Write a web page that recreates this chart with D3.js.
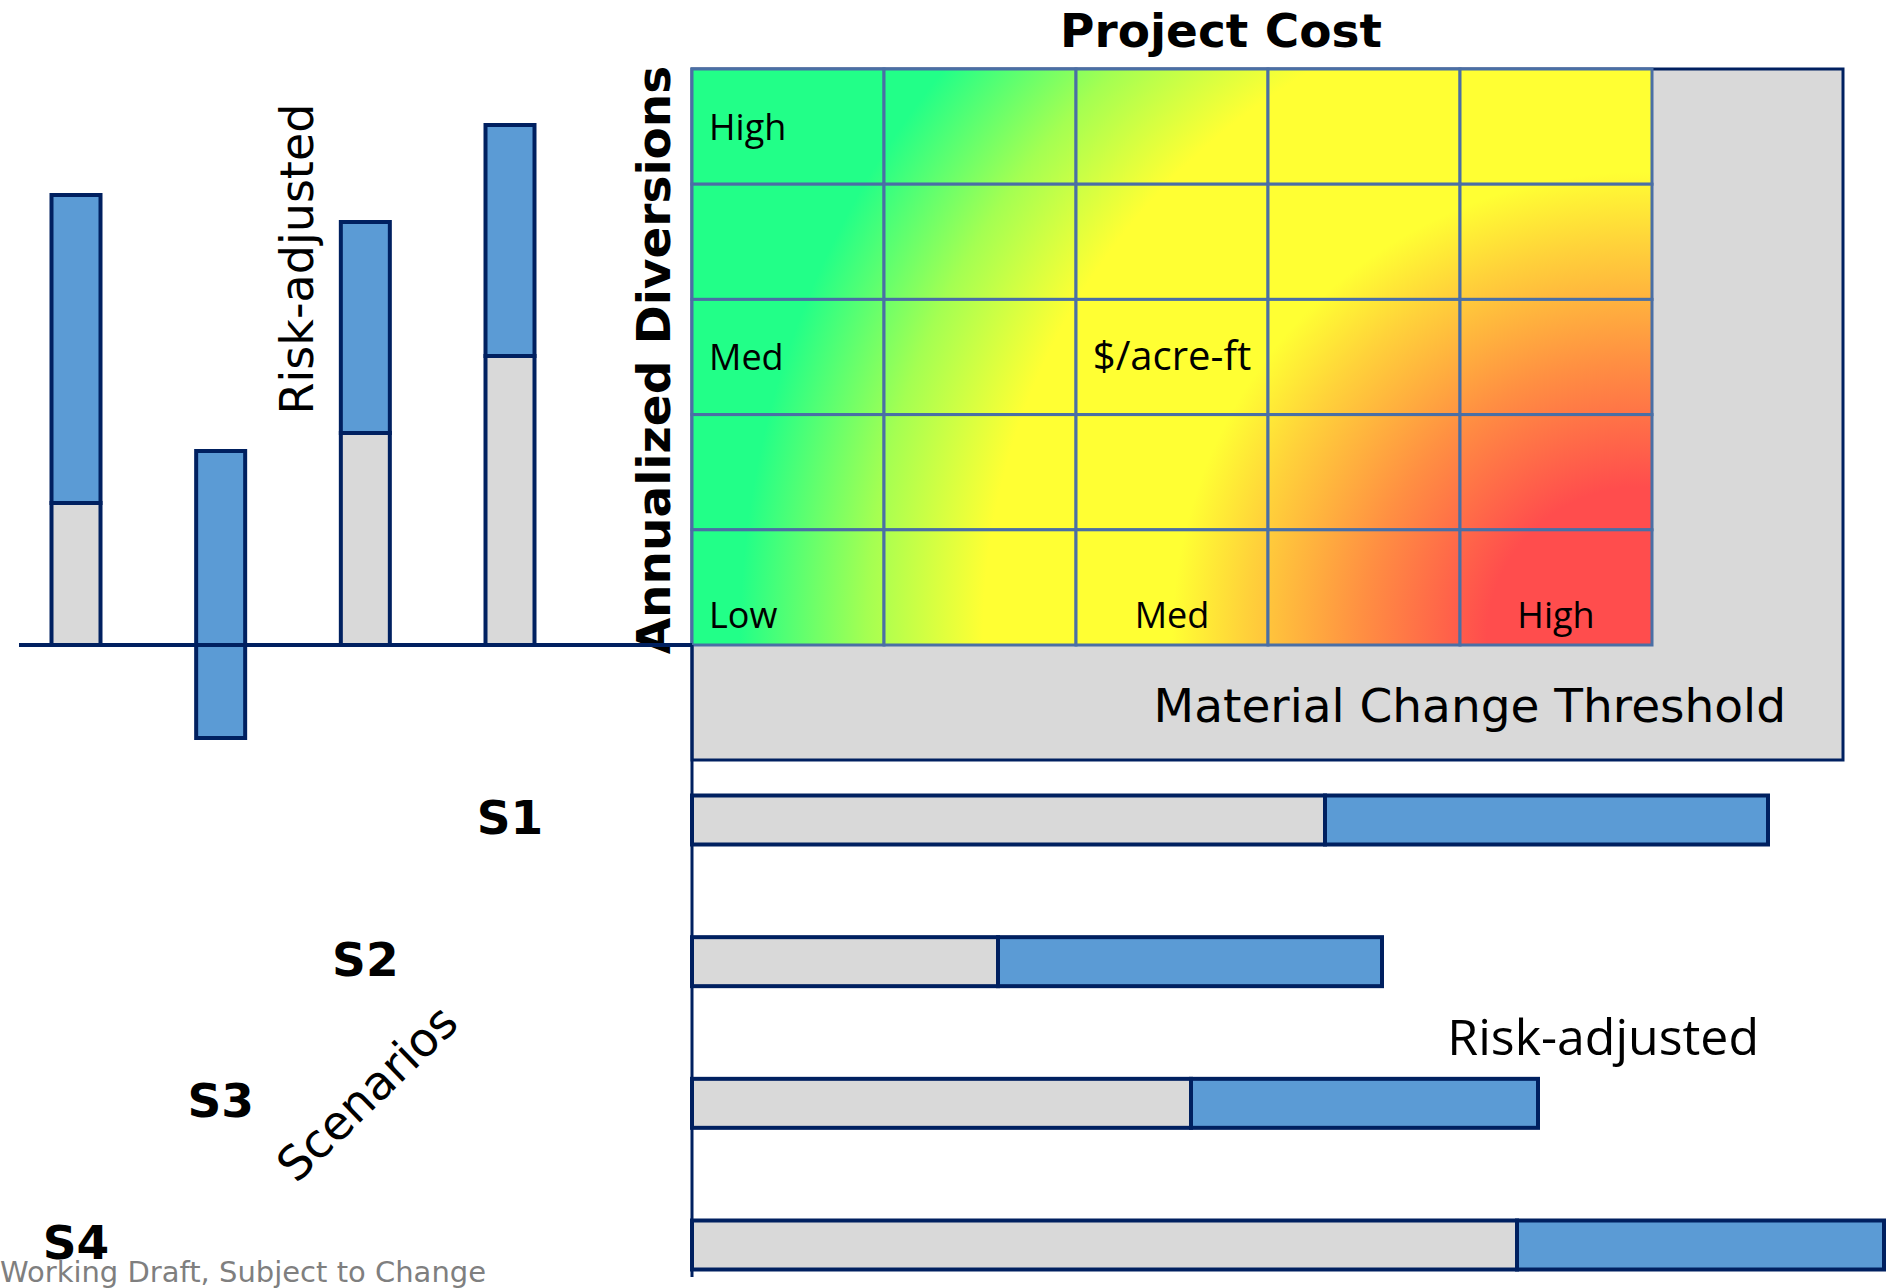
<!DOCTYPE html>
<html>
<head>
<meta charset="utf-8">
<script src="https://cdn.jsdelivr.net/npm/d3@7"></script>
<style>
  html, body { margin: 0; padding: 0; background: #fff; }
  svg { display: block; }
</style>
</head>
<body>
<div id="chart"></div>
<script>
// scenarios, top to bottom on the cost chart (left to right reversed on the diversions chart)
const scenarios = ['S1', 'S2', 'S3', 'S4'];

// annualized diversions (arbitrary units): base and risk-adjusted range
const divBase = [2.89, 2.12, 0, 1.42];
const divRiskLow = [2.89, 2.12, -0.93, 1.42];
const divRiskHigh = [5.20, 4.23, 1.94, 4.50];

// project cost (arbitrary units): base and risk-adjusted end
const costBase = [6.33, 3.06, 4.99, 8.25];
const costRiskHigh = [10.76, 6.90, 8.46, 11.92];

// material change threshold box and $/acre-ft matrix extent
const thresholdCost = 11.51;
const thresholdDiv = -1.15;
const matrixCostMax = 9.6;
const matrixDivMax = 5.76;

// matrix labels
const costLevels = ['Low', '', 'Med', '', 'High'];
const divLevels = ['High', '', 'Med', '', 'Low'];

const W = 1892, H = 1288;
const navy = '#002060', blue = '#5B9BD5', grey = '#D9D9D9';

const svg = d3.select('#chart').append('svg')
  .attr('width', W).attr('height', H);

const originX = 692, originY = 645;

const xCost = d3.scaleLinear().domain([0, 12]).range([originX, originX + 1200]);
const yDiv = d3.scaleLinear().domain([0, 5]).range([originY, originY - 500]);

const xScen = d3.scalePoint().domain(['S4', 'S3', 'S2', 'S1']).range([76, 510]);
const yScen = d3.scalePoint().domain(scenarios).range([820, 1245]);
const barW = 49;

// gradient for the matrix
const defs = svg.append('defs');
const grad = defs.append('radialGradient')
  .attr('id', 'heat')
  .attr('gradientUnits', 'userSpaceOnUse')
  .attr('cx', 1640).attr('cy', 640).attr('r', 900);
[[0, '#FF4D4D'], [0.17, '#FF4D4D'], [0.31, '#FF8F42'], [0.44, '#FFD23A'],
 [0.52, '#FFFF33'], [0.73, '#FFFF33'], [0.86, '#A4FF52'], [1, '#22FF88']]
  .forEach(s => grad.append('stop').attr('offset', s[0]).attr('stop-color', s[1]));

// threshold box
svg.append('rect')
  .attr('x', xCost(0)).attr('y', yDiv(matrixDivMax))
  .attr('width', xCost(thresholdCost) - xCost(0))
  .attr('height', yDiv(thresholdDiv) - yDiv(matrixDivMax))
  .attr('fill', grey).attr('stroke', navy).attr('stroke-width', 3);

svg.append('text')
  .attr('x', 1786).attr('y', 722)
  .attr('text-anchor', 'end')
  .style('font-family', 'DejaVu Sans')
  .style('font-size', '47px')
  .text('Material Change Threshold');

// matrix
const col = d3.scaleBand().domain(d3.range(5)).range([xCost(0), xCost(matrixCostMax)]);
const row = d3.scaleBand().domain(d3.range(5)).range([yDiv(matrixDivMax), yDiv(0)]);
const cells = [];
for (let r = 0; r < 5; r++) for (let c = 0; c < 5; c++) cells.push({ r, c });

svg.append('g').selectAll('rect').data(cells).enter().append('rect')
  .attr('x', d => col(d.c)).attr('y', d => row(d.r))
  .attr('width', col.bandwidth()).attr('height', row.bandwidth())
  .attr('fill', 'url(#heat)')
  .attr('stroke', '#4A6FA5').attr('stroke-width', 3);

const lab = svg.append('g')
  .style('font-family', "'Open Sans', 'Noto Sans', sans-serif")
  .style('font-size', '36px');

divLevels.forEach((t, i) => {
  if (!t || i === 4) return;
  lab.append('text')
    .attr('x', col(0) + 17)
    .attr('y', row(i) + row.bandwidth() / 2 + 13)
    .text(t);
});
costLevels.forEach((t, i) => {
  if (!t) return;
  lab.append('text')
    .attr('x', i === 0 ? col(0) + 17 : col(i) + col.bandwidth() / 2)
    .attr('y', row(4) + row.bandwidth() - 17)
    .attr('text-anchor', i === 0 ? 'start' : 'middle')
    .text(t);
});
lab.append('text')
  .attr('x', col(2) + col.bandwidth() / 2)
  .attr('y', row(2) + row.bandwidth() / 2 + 13)
  .attr('text-anchor', 'middle')
  .style('font-size', '40px')
  .text('$/acre-ft');

svg.append('text')
  .attr('x', 1221).attr('y', 47)
  .attr('text-anchor', 'middle')
  .style('font-family', 'DejaVu Sans')
  .style('font-weight', 'bold')
  .style('font-size', '47px')
  .text('Project Cost');

svg.append('text')
  .attr('transform', 'translate(670,360) rotate(-90)')
  .attr('text-anchor', 'middle')
  .style('font-family', 'DejaVu Sans')
  .style('font-weight', 'bold')
  .style('font-size', '47px')
  .text('Annualized Diversions');

// diversions chart (vertical bars)
const vBars = svg.append('g');
scenarios.forEach((s, i) => {
  if (divBase[i] > 0) {
    vBars.append('rect')
      .attr('x', xScen(s) - barW / 2).attr('width', barW)
      .attr('y', yDiv(divBase[i])).attr('height', yDiv(0) - yDiv(divBase[i]))
      .attr('fill', grey).attr('stroke', navy).attr('stroke-width', 4);
  }
  vBars.append('rect')
    .attr('x', xScen(s) - barW / 2).attr('width', barW)
    .attr('y', yDiv(divRiskHigh[i])).attr('height', yDiv(divRiskLow[i]) - yDiv(divRiskHigh[i]))
    .attr('fill', blue).attr('stroke', navy).attr('stroke-width', 4);
});

svg.append('line')
  .attr('x1', 19).attr('x2', originX).attr('y1', originY).attr('y2', originY)
  .attr('stroke', navy).attr('stroke-width', 4);

svg.append('text')
  .attr('transform', 'translate(313,259) rotate(-90)')
  .attr('text-anchor', 'middle')
  .style('font-family', 'DejaVu Sans')
  .style('font-size', '46px')
  .text('Risk-adjusted');

// cost chart (horizontal bars)
svg.append('line')
  .attr('x1', originX).attr('x2', originX).attr('y1', originY).attr('y2', 1277)
  .attr('stroke', navy).attr('stroke-width', 3);

const hBars = svg.append('g');
scenarios.forEach((s, i) => {
  hBars.append('rect')
    .attr('x', xCost(0)).attr('width', xCost(costBase[i]) - xCost(0))
    .attr('y', yScen(s) - barW / 2).attr('height', barW)
    .attr('fill', grey).attr('stroke', navy).attr('stroke-width', 4);
  hBars.append('rect')
    .attr('x', xCost(costBase[i])).attr('width', xCost(costRiskHigh[i]) - xCost(costBase[i]))
    .attr('y', yScen(s) - barW / 2).attr('height', barW)
    .attr('fill', blue).attr('stroke', navy).attr('stroke-width', 4);
});

svg.append('text')
  .attr('x', 1759).attr('y', 1055)
  .attr('text-anchor', 'end')
  .style('font-family', "'Open Sans', 'Noto Sans', sans-serif")
  .style('font-size', '50px')
  .text('Risk-adjusted');

// scenario labels
svg.append('g').selectAll('text').data(scenarios).enter().append('text')
  .attr('x', d => xScen(d))
  .attr('y', d => yScen(d) + 14)
  .attr('text-anchor', 'middle')
  .style('font-family', 'DejaVu Sans')
  .style('font-weight', 'bold')
  .style('font-size', '47px')
  .text(d => d);

svg.append('text')
  .attr('transform', 'translate(367,1093) rotate(-44)')
  .attr('text-anchor', 'middle')
  .attr('dy', '0.35em')
  .style('font-family', 'DejaVu Sans')
  .style('font-size', '47px')
  .text('Scenarios');

svg.append('text')
  .attr('x', 0).attr('y', 1282)
  .style('font-family', 'DejaVu Sans')
  .style('font-size', '29px')
  .attr('fill', '#7F7F7F')
  .text('Working Draft, Subject to Change');
</script>
</body>
</html>
